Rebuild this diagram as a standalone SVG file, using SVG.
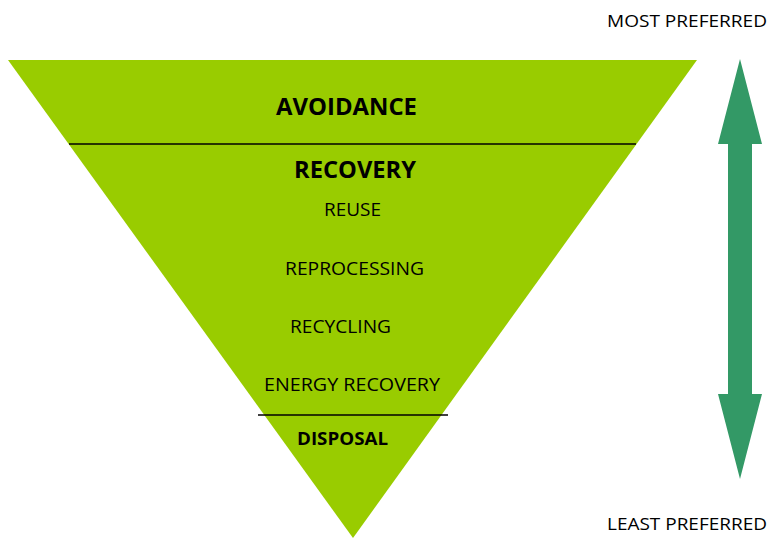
<svg xmlns="http://www.w3.org/2000/svg" width="769" height="538" viewBox="0 0 769 538">
<style>
.t{font-family:"Open Sans","Liberation Sans",sans-serif;fill:#000;text-anchor:start}
.b{font-weight:bold}
.sep{stroke:#000;stroke-width:1.5}
</style>
<rect width="769" height="538" fill="#fff"/>
<g id="pyramid">
<polygon points="8,60 697,60 353,538" fill="#99CC00"/>
</g>
<g id="connectors">
<line class="sep" x1="69" y1="144" x2="636" y2="144"/>
<line class="sep" x1="258" y1="415" x2="448" y2="415"/>
<polygon points="740,59 762,144 752,144 752,394 762,394 740,479 718,394 728,394 728,144 718,144" fill="#339966"/>
</g>
<g id="avoidance"><text class="t b" x="276" y="115" font-size="24" textLength="141" lengthAdjust="spacingAndGlyphs">AVOIDANCE</text></g>
<g id="recovery"><text class="t b" x="294" y="178" font-size="24" textLength="122" lengthAdjust="spacingAndGlyphs">RECOVERY</text></g>
<g id="reuse"><text class="t" x="324" y="216" font-size="18" textLength="57" lengthAdjust="spacingAndGlyphs">REUSE</text></g>
<g id="reprocessing"><text class="t" x="285" y="275" font-size="18" textLength="139" lengthAdjust="spacingAndGlyphs">REPROCESSING</text></g>
<g id="recycling"><text class="t" x="290" y="333" font-size="18" textLength="101" lengthAdjust="spacingAndGlyphs">RECYCLING</text></g>
<g id="energy"><text class="t" x="264" y="391" font-size="18" textLength="176" lengthAdjust="spacingAndGlyphs">ENERGY RECOVERY</text></g>
<g id="disposal"><text class="t b" x="297" y="445" font-size="18" textLength="91" lengthAdjust="spacingAndGlyphs">DISPOSAL</text></g>
<g id="most"><text class="t" x="607" y="27" font-size="17" textLength="160" lengthAdjust="spacingAndGlyphs">MOST  PREFERRED</text></g>
<g id="least"><text class="t" x="607" y="530" font-size="17" textLength="160" lengthAdjust="spacingAndGlyphs">LEAST  PREFERRED</text></g>
</svg>
